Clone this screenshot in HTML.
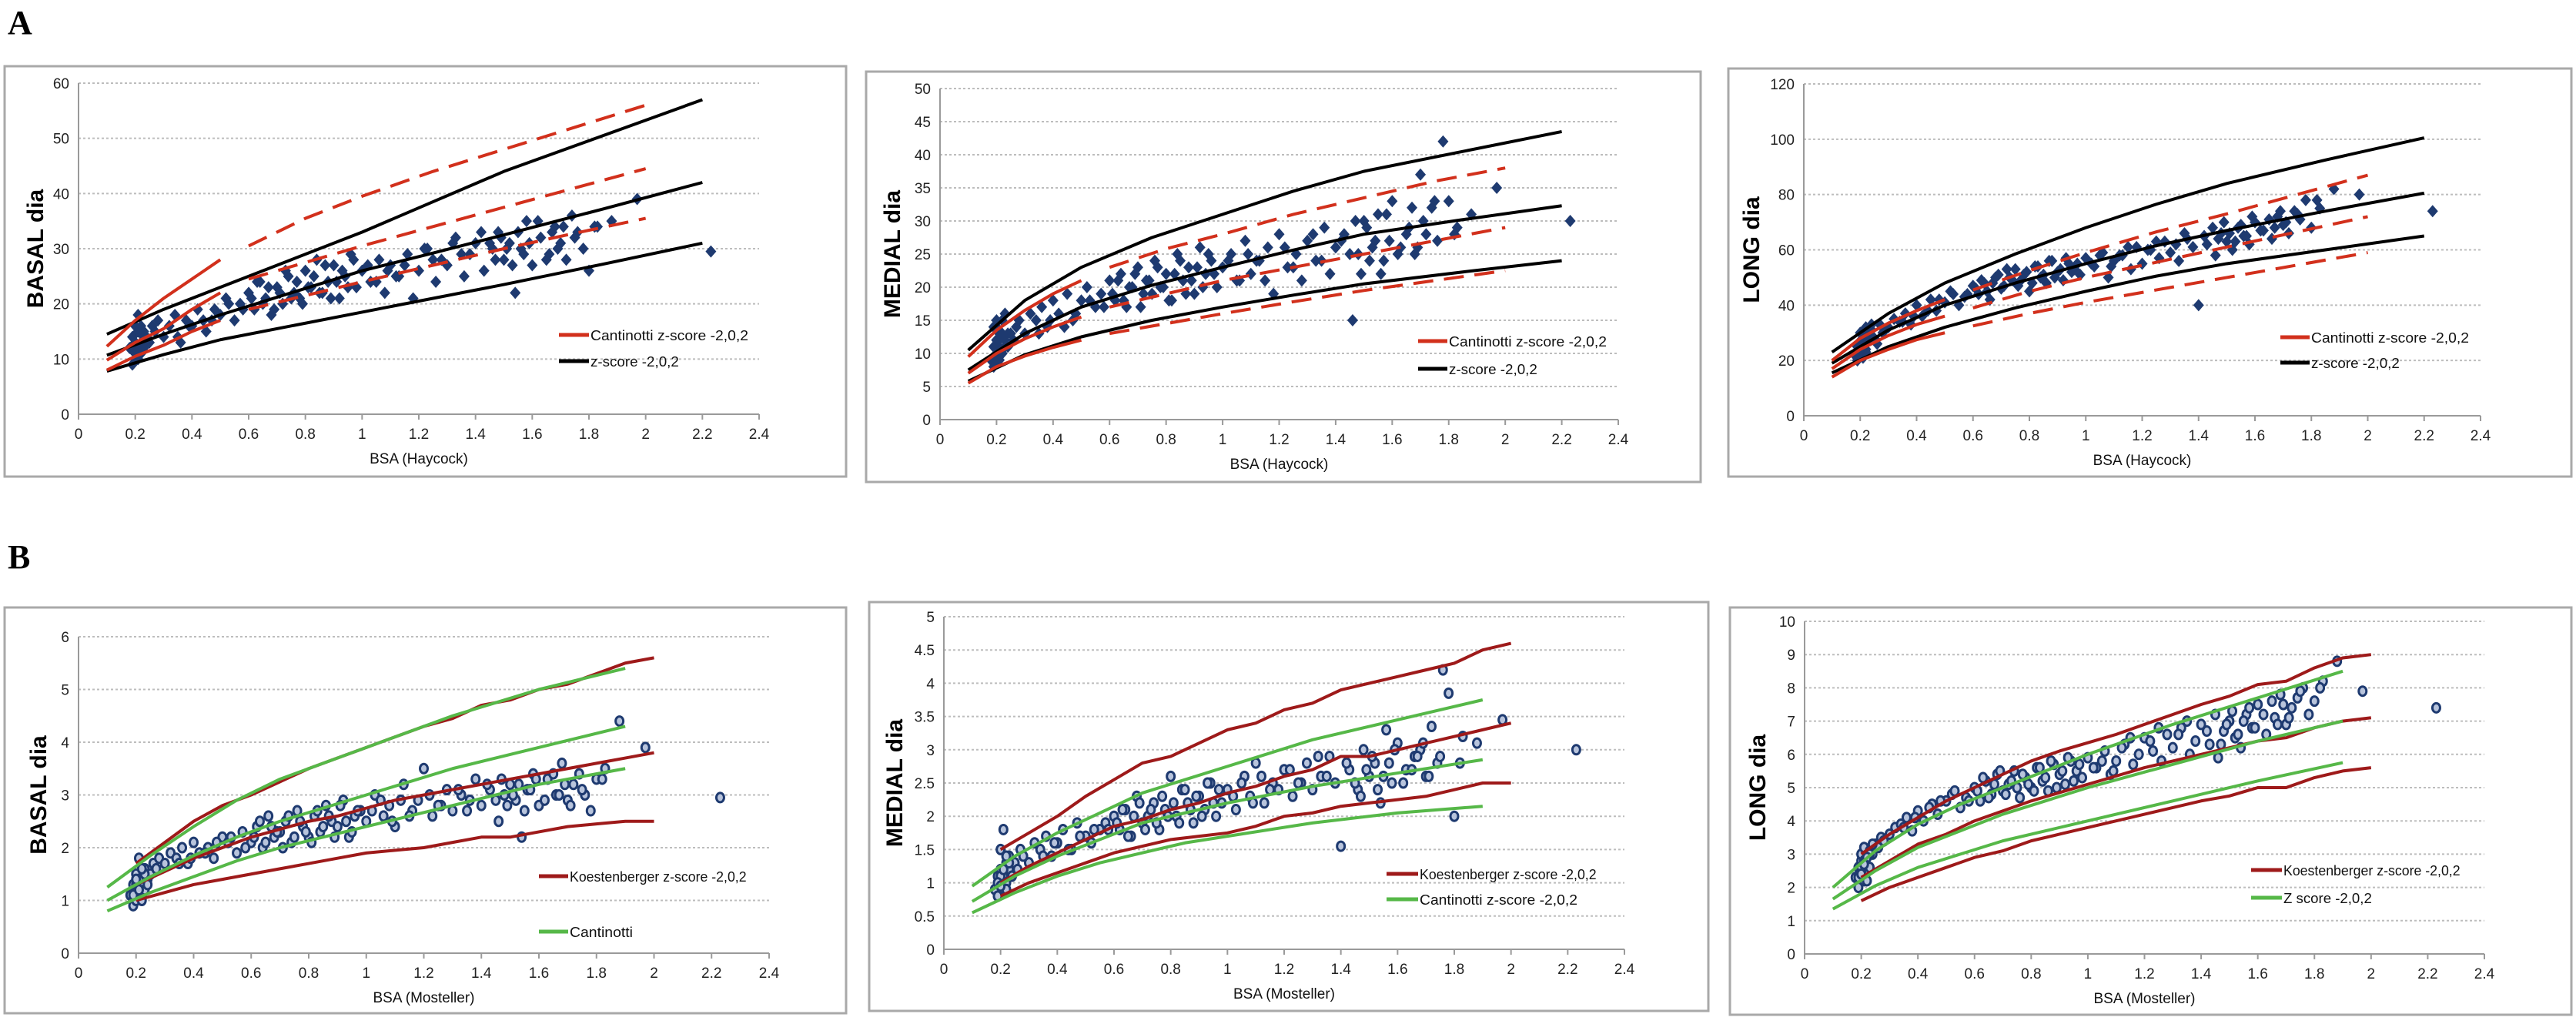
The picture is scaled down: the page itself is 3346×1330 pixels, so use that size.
<!DOCTYPE html>
<html><head><meta charset="utf-8">
<style>
html,body{margin:0;padding:0;background:#fff;}
svg{display:block;font-family:"Liberation Sans",Arial,sans-serif;}
</style></head>
<body>
<svg id="fig" width="3346" height="1330" viewBox="0 0 3346 1330" xmlns="http://www.w3.org/2000/svg">
<text x="10" y="44" font-family="Liberation Serif" font-weight="bold" font-size="44">A</text>
<text x="10" y="738" font-family="Liberation Serif" font-weight="bold" font-size="44">B</text>
</svg>
<script>
// ---- shared data ----
const xTicks = [0,0.2,0.4,0.6,0.8,1,1.2,1.4,1.6,1.8,2,2.2,2.4];
const xTickLabels = ["0","0.2","0.4","0.6","0.8","1","1.2","1.4","1.6","1.8","2","2.2","2.4"];
const bsa = [0.18,0.19,0.19,0.2,0.2,0.2,0.21,0.21,0.21,0.22,0.22,0.23,0.23,0.24,0.25,0.26,0.27,0.28,0.3,0.32,
0.34,0.36,0.38,0.4,0.42,0.45,0.47,0.5,0.52,0.55,
0.57,0.6,0.62,0.64,0.66,0.68,0.7,0.72,0.74,0.76,
0.78,0.8,0.82,0.84,0.86,0.88,0.9,0.92,0.94,0.96,
0.98,1.0,1.03,1.06,1.08,1.1,1.13,1.16,1.18,1.2,
1.23,1.26,1.28,1.3,1.33,1.36,1.38,1.4,1.43,1.46,
1.48,1.5,1.52,1.54,1.56,1.58,1.6,1.63,1.66,1.68,
1.7,1.72,1.74,1.76,1.78,1.8,1.83,1.88,1.97,2.23,
0.2,0.21,0.22,0.2,0.23,0.19,0.22,0.24,0.21,0.2,
0.58,0.61,0.63,0.65,0.67,0.69,0.71,0.73,0.75,0.77,
0.79,0.81,0.83,0.85,0.87,0.89,0.91,0.93,0.95,0.97,
1.12,1.15,1.22,1.25,1.32,1.35,1.42,1.45,1.47,1.49,
1.51,1.53,1.55,1.57,1.59,1.62,1.65,1.67,1.69,1.71,
0.44,0.48,0.53,0.35,0.39,1.02,1.05,1.09,1.75,1.82];
const basalA = [12,9,14,11,13,16,10,12,18,13,11,15,12,14,13,16,15,17,14,16,
18,13,17,16,19,15,17,18,21,17,
20,22,19,24,21,18,23,20,25,22,
21,26,23,28,22,24,27,21,25,29,
23,26,24,28,22,27,25,29,21,26,
30,24,28,27,32,25,29,31,26,30,
33,28,31,22,30,35,27,32,29,34,
31,28,36,33,30,26,34,35,39,29.5,
13,15,11,10,14,12,16,13,15,11,
19,21,24,20,23,19,22,26,21,24,
20,23,25,22,27,21,24,26,23,28,
25,27,30,28,31,29,33,31,28,32,
30,27,33,29,31,35,28,33,30,34,
17,19,20,14,16,27,24,26,32,34];
const medialA = [9,11,8,12,10,14,9,13,11,15,10,12,16,11,13,12,14,15,13,16,
15,17,14,18,16,19,15,18,20,17,
19,21,18,22,17,20,23,19,21,24,
20,22,18,25,21,23,19,26,22,24,
20,23,25,21,27,22,24,26,19,28,
23,25,21,27,24,29,22,26,28,15,
25,30,24,27,22,31,33,26,29,25,
37,28,32,27,42,33,29,31,35,30,
12,10,13,9,11,14,10,13,12,15,
17,19,21,18,20,22,17,21,19,23,
20,18,22,24,19,21,23,20,25,22,
24,21,26,23,28,24,27,25,30,22,
29,26,31,24,27,25,28,32,26,30,
14,16,18,13,15,24,21,25,33,28];
const longA = [22,25,20,27,24,30,21,28,26,32,23,29,27,31,28,26,33,30,32,35,
34,37,33,40,36,42,38,41,45,40,
43,47,44,48,42,50,46,53,49,47,
51,45,54,50,48,56,52,49,55,53,
51,57,54,59,50,56,58,53,61,55,
60,57,63,59,56,64,61,40,62,58,
66,63,60,68,65,62,70,67,64,72,
69,66,74,71,78,68,75,82,80,74,
26,29,24,23,31,22,28,33,25,27,
44,46,49,45,48,51,47,50,53,49,
52,48,54,51,56,50,53,57,52,55,
58,61,60,63,62,66,65,68,64,70,
66,63,69,65,72,67,71,68,74,70,
38,42,44,34,36,55,58,54,73,78];
const basalB = [1.1,0.9,1.3,1.2,1.0,1.5,1.2,1.4,1.8,1.1,1.3,1.6,1.2,1.4,1.5,1.7,1.6,1.8,1.7,1.9,
1.8,2.0,1.7,2.1,1.9,2.0,1.8,2.2,2.1,1.9,
2.3,2.1,2.4,2.0,2.6,2.2,2.3,2.5,2.1,2.7,
2.4,2.2,2.6,2.3,2.8,2.5,2.4,2.9,2.2,2.6,
2.7,2.5,3.0,2.6,2.8,2.4,3.2,2.7,2.9,3.5,
2.6,2.8,3.1,2.7,3.0,2.9,3.3,2.8,3.1,2.5,
3.0,3.2,2.9,2.2,3.1,3.4,2.8,3.3,3.0,3.6,
2.9,3.2,3.4,3.0,2.7,3.3,3.5,4.4,3.9,2.95,
1.2,1.4,1.0,1.3,1.5,1.1,1.6,1.3,1.2,1.4,
2.0,2.2,2.5,2.1,2.4,2.3,2.0,2.6,2.2,2.5,
2.3,2.1,2.7,2.4,2.6,2.2,2.8,2.5,2.3,2.7,
2.9,2.6,3.0,2.8,3.1,2.7,3.2,2.9,3.3,2.8,
3.0,3.2,2.7,3.1,3.3,2.9,3.4,3.0,3.2,2.8,
1.9,2.1,2.2,1.7,1.8,2.7,2.9,2.5,3.1,3.3];
const medialB = [0.9,1.1,0.8,1.0,1.2,1.5,0.9,1.1,1.8,1.0,1.3,1.2,1.4,1.1,1.3,1.2,1.5,1.4,1.3,1.6,
1.5,1.7,1.4,1.6,1.8,1.5,1.9,1.7,1.6,1.8,
1.9,2.0,1.8,2.1,1.7,2.3,1.9,2.0,2.2,1.8,
2.1,2.6,2.0,2.4,2.2,1.9,2.3,2.1,2.5,2.0,
2.2,2.4,2.1,2.6,2.3,2.8,2.2,2.5,2.4,2.7,
2.3,2.5,2.8,2.4,2.6,2.9,2.5,1.55,2.7,2.4,
3.0,2.6,2.8,2.2,3.3,2.5,3.1,2.7,2.9,3.0,
2.6,3.35,2.8,4.2,3.85,2.0,3.2,3.1,3.45,3.0,
1.0,1.2,0.9,1.1,1.3,1.0,1.4,1.1,1.2,0.95,
1.8,1.9,2.1,1.7,2.0,2.2,1.8,2.1,1.9,2.3,
2.0,2.2,1.9,2.4,2.1,2.3,2.0,2.5,2.2,2.4,
2.6,2.4,2.7,2.5,2.9,2.6,2.8,2.5,2.3,2.7,
2.9,2.4,2.6,2.8,3.0,2.5,2.7,2.9,3.1,2.6,
1.5,1.7,1.8,1.4,1.6,2.3,2.5,2.2,2.9,2.8];
const longB = [2.3,2.0,2.6,2.4,2.8,3.0,2.2,2.7,3.2,2.5,2.9,3.1,2.6,3.0,3.3,3.2,3.5,3.4,3.6,3.8,
3.9,4.1,3.7,4.3,4.0,4.5,4.2,4.6,4.8,4.4,
4.7,5.0,4.6,5.2,4.8,5.4,4.9,5.1,5.5,4.7,
5.3,5.0,5.6,5.2,4.9,5.7,5.4,5.1,5.8,5.5,
5.3,5.9,5.6,6.1,5.4,5.8,6.3,5.7,6.0,6.5,
6.1,5.8,6.6,6.2,6.8,6.0,6.4,6.9,6.3,5.9,
6.7,7.0,6.5,6.2,7.2,6.8,7.5,6.6,7.1,7.8,
6.9,7.4,7.7,8.0,7.2,7.6,8.2,8.8,7.9,7.4,
2.5,2.8,2.2,2.6,3.0,2.3,2.9,3.3,2.7,2.4,
4.6,4.9,5.3,4.7,5.1,5.5,4.8,5.2,5.0,5.4,
5.1,4.9,5.6,5.3,5.8,5.0,5.5,5.9,5.2,5.7,
6.2,6.5,6.4,6.8,6.6,7.0,6.7,7.2,6.3,6.9,
7.3,6.6,7.0,7.4,6.8,7.2,7.6,6.9,7.5,7.1,
4.4,4.6,4.9,3.8,4.1,5.6,5.8,5.5,7.9,8.0];

// reference curve x grids
const gridBlack = [0.1,0.3,0.5,0.75,1.0,1.25,1.5,1.85,2.2];
const gridRedA = [0.1,0.2,0.3,0.4,0.5,0.6,0.8,1.0,1.25,1.5,1.75,2.0];
const gridKoest = [0.2,0.3,0.4,0.5,0.6,0.7,0.8,0.9,1.0,1.1,1.2,1.3,1.4,1.5,1.6,1.7,1.8,1.9,2.0];
const gridGreen = [0.1,0.25,0.4,0.55,0.7,0.85,1.0,1.3,1.6,1.9];

const a1BlackHi = [14.5,19,23,28,33,38.5,44,50.5,57];
const a1BlackMid = [10.7,14.5,18,22,26,29.2,32.5,37.2,42];
const a1BlackLo = [7.8,10.8,13.5,16,18.5,21,23.5,27.2,31];
const a1RedHi = [12.3,17,21,24.5,28,30.5,35.5,39.5,44,48,52,56];
const a1RedMid = [9.8,13,15.5,19,22,24.5,27.5,30.5,34,37.5,41,44.5];
const a1RedLo = [8,10.5,12.5,15,17,19,21.5,24,27,30,32.8,35.5];
const a2BlackHi = [10.5,18,23,27.5,31,34.5,37.5,40.5,43.5];
const a2BlackMid = [7.5,13,17,20.3,23,25.6,28,30.2,32.3];
const a2BlackLo = [5.8,9.8,12.5,15,17,18.8,20.5,22.3,24];
const a2RedHi = [9.5,13.5,16.5,19,21,23,25.8,28,31,33.5,36,38];
const a2RedMid = [7,10,12.2,14,15.5,17,19,21,23,25,27,29];
const a2RedLo = [5.5,8,9.6,10.9,12,13,14.5,16,17.8,19.5,21,22.5];
const a3BlackHi = [23,37,48,58.5,68,76.5,84,92.5,100.5];
const a3BlackMid = [19,31,40,48,55,61.5,67,74,80.5];
const a3BlackLo = [15.5,25,32,39,45,50.5,55,60,65];
const a3RedHi = [20,28,33.5,38,42,45.5,52.5,59,66.5,73,80,87];
const a3RedMid = [17,24,29,33,36,39,45,50,55.5,61,66.5,72];
const a3RedLo = [14,20,24,27.5,30,32.5,37,41,45.5,50,54.5,59];
const b1KHi = [1.7,2.1,2.5,2.8,3.0,3.25,3.5,3.7,3.9,4.1,4.3,4.45,4.7,4.8,5.0,5.1,5.3,5.5,5.6];
const b1KMid = [1.3,1.55,1.8,2.0,2.2,2.35,2.5,2.6,2.75,2.9,3.0,3.1,3.2,3.3,3.4,3.5,3.6,3.7,3.8];
const b1KLo = [1.0,1.15,1.3,1.4,1.5,1.6,1.7,1.8,1.9,1.95,2.0,2.1,2.2,2.2,2.3,2.4,2.45,2.5,2.5];
const b1GHi = [1.25,1.85,2.4,2.9,3.3,3.6,3.9,4.5,5.0,5.4];
const b1GMid = [1.0,1.45,1.85,2.2,2.5,2.75,3.0,3.5,3.9,4.3];
const b1GLo = [0.8,1.15,1.45,1.75,2.0,2.2,2.4,2.8,3.2,3.5];
const b2KHi = [1.5,1.75,2.0,2.3,2.55,2.8,2.9,3.1,3.3,3.4,3.6,3.7,3.9,4.0,4.1,4.2,4.3,4.5,4.6];
const b2KMid = [1.0,1.25,1.45,1.65,1.85,1.95,2.1,2.2,2.35,2.45,2.6,2.7,2.9,2.9,3.0,3.1,3.2,3.3,3.4];
const b2KLo = [0.8,1.0,1.15,1.3,1.45,1.55,1.65,1.7,1.75,1.85,2.0,2.05,2.15,2.2,2.25,2.3,2.4,2.5,2.5];
const b2GHi = [0.95,1.4,1.75,2.05,2.35,2.55,2.75,3.15,3.45,3.75];
const b2GMid = [0.72,1.1,1.4,1.65,1.9,2.05,2.2,2.45,2.65,2.85];
const b2GLo = [0.55,0.85,1.1,1.3,1.45,1.6,1.7,1.9,2.05,2.15];
const b3KHi = [3.0,3.6,4.1,4.6,5.0,5.4,5.8,6.1,6.35,6.6,6.9,7.2,7.5,7.75,8.1,8.2,8.6,8.9,9.0];
const b3KMid = [2.3,2.8,3.3,3.6,4.0,4.3,4.6,4.85,5.1,5.35,5.6,5.8,6.0,6.2,6.4,6.5,6.8,7.0,7.1];
const b3KLo = [1.6,2.0,2.3,2.6,2.9,3.1,3.4,3.6,3.8,4.0,4.2,4.4,4.6,4.75,5.0,5.0,5.3,5.5,5.6];
const b3GHi = [2.0,3.1,3.9,4.5,5.0,5.5,6.0,6.9,7.7,8.5];
const b3GMid = [1.65,2.5,3.2,3.7,4.2,4.6,5.0,5.7,6.4,7.0];
const b3GLo = [1.35,2.05,2.6,3.0,3.4,3.7,4.0,4.6,5.2,5.75];

const NS = "http://www.w3.org/2000/svg";
const svg = document.getElementById('fig');
function mk(tag, attrs, parent){
  const e = document.createElementNS(NS, tag);
  for (const k in attrs) e.setAttribute(k, attrs[k]);
  (parent||svg).appendChild(e);
  return e;
}
const RED = "#d2301c", BLACK = "#000", KRED = "#9e1a1a", GREEN = "#56b848", NAVY = "#1e3a70";

const panels = [
 {id:"a-basal", frame:[6,86,1093,533], px:[102,986], py:[538,108], ymax:60, ystep:10, title:"BASAL dia", xtitle:"BSA (Haycock)", tx:46,
  ys:basalA, open:false,
  curves:[[gridBlack,a1BlackHi,BLACK,0],[gridBlack,a1BlackMid,BLACK,0],[gridBlack,a1BlackLo,BLACK,0],
          [gridRedA,a1RedHi,RED,1],[gridRedA,a1RedMid,RED,1],[gridRedA,a1RedLo,RED,1]],
  legend:[[726,765,435,RED,"Cantinotti z-score -2,0,2"],[726,765,469,BLACK,"z-score -2,0,2"]]},
 {id:"a-medial", frame:[1125,93,1084,533], px:[1221,2102], py:[545,115], ymax:50, ystep:5, title:"MEDIAL dia", xtitle:"BSA (Haycock)", tx:1159,
  ys:medialA, open:false,
  curves:[[gridBlack,a2BlackHi,BLACK,0],[gridBlack,a2BlackMid,BLACK,0],[gridBlack,a2BlackLo,BLACK,0],
          [gridRedA,a2RedHi,RED,1],[gridRedA,a2RedMid,RED,1],[gridRedA,a2RedLo,RED,1]],
  legend:[[1842,1880,443,RED,"Cantinotti z-score -2,0,2"],[1842,1880,479,BLACK,"z-score -2,0,2"]]},
 {id:"a-long", frame:[2245,89,1095,530], px:[2343,3222], py:[540,109], ymax:120, ystep:20, title:"LONG dia", xtitle:"BSA (Haycock)", tx:2275,
  ys:longA, open:false,
  curves:[[gridBlack,a3BlackHi,BLACK,0],[gridBlack,a3BlackMid,BLACK,0],[gridBlack,a3BlackLo,BLACK,0],
          [gridRedA,a3RedHi,RED,1],[gridRedA,a3RedMid,RED,1],[gridRedA,a3RedLo,RED,1]],
  legend:[[2962,3000,438,RED,"Cantinotti z-score -2,0,2"],[2962,3000,471,BLACK,"z-score -2,0,2"]]},
 {id:"b-basal", frame:[6,789,1093,527], px:[102,999], py:[1238,827], ymax:6, ystep:1, title:"BASAL dia", xtitle:"BSA (Mosteller)", tx:50,
  ys:basalB, open:true,
  curves:[[gridKoest,b1KHi,KRED,0],[gridKoest,b1KMid,KRED,0],[gridKoest,b1KLo,KRED,0],
          [gridGreen,b1GHi,GREEN,0],[gridGreen,b1GMid,GREEN,0],[gridGreen,b1GLo,GREEN,0]],
  legend:[[700,738,1138,KRED,"Koestenberger z-score -2,0,2"],[700,738,1210,GREEN,"Cantinotti"]]},
 {id:"b-medial", frame:[1129,782,1090,531], px:[1226,2110], py:[1233,801], ymax:5, ystep:0.5, title:"MEDIAL dia", xtitle:"BSA (Mosteller)", tx:1162,
  ys:medialB, open:true,
  curves:[[gridKoest,b2KHi,KRED,0],[gridKoest,b2KMid,KRED,0],[gridKoest,b2KLo,KRED,0],
          [gridGreen,b2GHi,GREEN,0],[gridGreen,b2GMid,GREEN,0],[gridGreen,b2GLo,GREEN,0]],
  legend:[[1801,1842,1135,KRED,"Koestenberger z-score -2,0,2"],[1801,1842,1168,GREEN,"Cantinotti z-score -2,0,2"]]},
 {id:"b-long", frame:[2247,789,1093,529], px:[2344,3227], py:[1239,807], ymax:10, ystep:1, title:"LONG dia", xtitle:"BSA (Mosteller)", tx:2283,
  ys:longB, open:true,
  curves:[[gridKoest,b3KHi,KRED,0],[gridKoest,b3KMid,KRED,0],[gridKoest,b3KLo,KRED,0],
          [gridGreen,b3GHi,GREEN,0],[gridGreen,b3GMid,GREEN,0],[gridGreen,b3GLo,GREEN,0]],
  legend:[[2924,2964,1130,KRED,"Koestenberger z-score -2,0,2"],[2924,2964,1166,GREEN,"Z score -2,0,2"]]}
];

panels.forEach(p => {
  const g = mk('g', {});
  
  
  const sx = v => p.px[0] + (p.px[1]-p.px[0]) * v / 2.4;
  const sy = v => p.py[0] + (p.py[1]-p.py[0]) * v / p.ymax;
  const fr = mk('rect', {x:p.frame[0], y:p.frame[1], width:p.frame[2], height:p.frame[3], fill:'#fff', stroke:'#a9a9a9', 'stroke-width':3}, g);
  
  
  const nT = Math.round(p.ymax / p.ystep);
  for (let i = 0; i <= nT; i++) {
    const v = +(i * p.ystep).toFixed(2);
    const y = sy(v);
    if (i > 0) {
      const gl = mk('line', {x1:sx(0), x2:sx(2.4), y1:y, y2:y, stroke:'#bdbdbd', 'stroke-width':2, 'stroke-dasharray':'3,3'}, g);
      
      
    }
    const tl = mk('text', {x:sx(0)-12, y:y+7, 'font-size':19, 'text-anchor':'end', fill:'#222'}, g);
    tl.textContent = String(v);
    
    
  }
  const ya = mk('line', {x1:sx(0), x2:sx(0), y1:sy(0), y2:sy(p.ymax), stroke:'#9a9a9a', 'stroke-width':2}, g);
  
  
  const xa = mk('line', {x1:sx(0), x2:sx(2.4), y1:sy(0), y2:sy(0), stroke:'#9a9a9a', 'stroke-width':2}, g);
  
  
  xTicks.forEach((t, i) => {
    mk('line', {x1:sx(t), x2:sx(t), y1:sy(0), y2:sy(0)+7, stroke:'#9a9a9a', 'stroke-width':2}, g);
    const xl = mk('text', {x:sx(t), y:sy(0)+32, 'font-size':19, 'text-anchor':'middle', fill:'#222'}, g);
    xl.textContent = xTickLabels[i];
    
    
  });
  const xt = mk('text', {x:(sx(0)+sx(2.4))/2, y:sy(0)+64, 'font-size':19, 'text-anchor':'middle', fill:'#111'}, g);
  xt.textContent = p.xtitle;
  
  
  const cy = (sy(0)+sy(p.ymax))/2;
  const yt = mk('text', {x:p.tx, y:cy, 'font-size':30, 'font-weight':'bold', 'text-anchor':'middle', transform:`rotate(-90 ${p.tx} ${cy})`, dy:10, fill:'#000'}, g);
  yt.textContent = p.title;
  
  
  bsa.forEach((x, i) => {
    const X = sx(x), Y = sy(p.ys[i]);
    let m;
    if (p.open) {
      m = mk('ellipse', {cx:X, cy:Y, rx:5, ry:6, fill:'#b8c4dc', stroke:NAVY, 'stroke-width':3}, g);
    } else {
      m = mk('path', {d:`M${X} ${Y-8}L${X+7} ${Y}L${X} ${Y+8}L${X-7} ${Y}Z`, fill:NAVY}, g);
    }
    
    
  });
  p.curves.forEach(c => {
    const [xs, ys, col, dashedAfter] = c;
    if (dashedAfter) {
      const sol = [], das = [];
      xs.forEach((x, i) => { if (x <= 0.5) sol.push([sx(x), sy(ys[i])]); else das.push([sx(x), sy(ys[i])]); });
      const l1 = mk('polyline', {points:sol.map(q=>q.join(',')).join(' '), fill:'none', stroke:col, 'stroke-width':4, 'stroke-linejoin':'round'}, g);
      
      
      const l2 = mk('polyline', {points:das.map(q=>q.join(',')).join(' '), fill:'none', stroke:col, 'stroke-width':4, 'stroke-dasharray':'26,14'}, g);
      
      
    } else {
      const pts = xs.map((x, i) => sx(x) + ',' + sy(ys[i])).join(' ');
      const l = mk('polyline', {points:pts, fill:'none', stroke:col, 'stroke-width':4, 'stroke-linejoin':'round'}, g);
      
      
    }
  });
  p.legend.forEach(L => {
    const [x1, x2, y, col, txt] = L;
    const lg = mk('g', {}, g);
    
    
    mk('line', {x1:x1, x2:x2, y1:y, y2:y, stroke:col, 'stroke-width':5}, lg);
    const t = mk('text', {x:x2+2, y:y+7, 'font-size':18, fill:'#111', textLength: txt.length*8.2, lengthAdjust:'spacingAndGlyphs'}, lg);
    t.textContent = txt;
  });
});
</script>
</body></html>
